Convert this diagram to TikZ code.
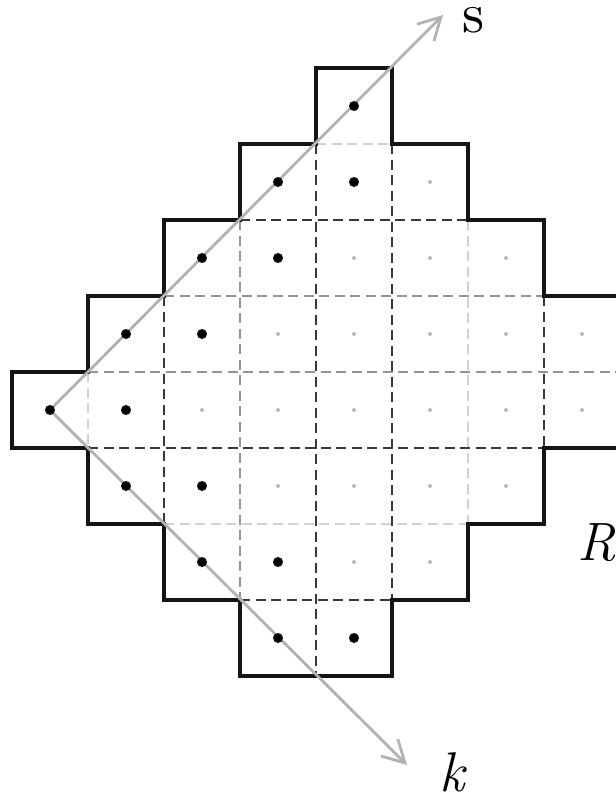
\documentclass[tikz,border=0pt]{standalone}
\usepackage{fontspec}
\usetikzlibrary{arrows.meta}
\newcommand{\bigsz}[1]{\fontsize{#1}{#1}\selectfont}
\begin{document}
\begin{tikzpicture}[x=1pt,y=-1pt,
  outline/.style={line width=3.6pt, draw=black!92, line join=miter},
  dk/.style={draw=black!78, line width=1.3pt, dash pattern=on 10pt off 5.5pt},
  md/.style={draw=black!42, line width=1.3pt, dash pattern=on 10pt off 5.5pt},
  lt/.style={draw=black!18, line width=1.3pt, dash pattern=on 10pt off 5.5pt},
  bdot/.style={circle, fill=black, inner sep=0pt, minimum size=10pt},
  gdot/.style={circle, fill=black!28, inner sep=0pt, minimum size=4pt},
  axisline/.style={draw=black!30, line width=2.8pt, -{Straight Barb[length=22pt,width=24pt]}},
  lbl/.style={inner sep=0pt}
]
\useasboundingbox (0,0) rectangle (616,801);

% light dashed grid segments
\draw[lt] (88,372) -- (88,448);
\draw[lt] (468,220) -- (468,524);
\draw[lt] (316,144) -- (392,144);
\draw[lt] (164,524) -- (468,524);
% medium dashed grid segments
\draw[md] (164,296) -- (544,296);
\draw[md] (88,372) -- (618,372);
\draw[md] (240,220) -- (240,600);
% dark dashed grid segments
\draw[dk] (164,296) -- (164,524);
\draw[dk] (316,144) -- (316,676);
\draw[dk] (392,144) -- (392,600);
\draw[dk] (544,296) -- (544,448);
\draw[dk] (240,220) -- (468,220);
\draw[dk] (88,448) -- (544,448);
\draw[dk] (240,600) -- (392,600);

% outline of the region
\draw[outline] (316,68) -- (392,68) -- (392,144) -- (468,144) -- (468,220) -- (544,220)
  -- (544,296) -- (618,296) -- (618,448) -- (544,448) -- (544,524) -- (468,524)
  -- (468,600) -- (392,600) -- (392,676) -- (240,676) -- (240,600) -- (164,600)
  -- (164,524) -- (88,524) -- (88,448) -- (12,448) -- (12,372) -- (88,372)
  -- (88,296) -- (164,296) -- (164,220) -- (240,220) -- (240,144) -- (316,144) -- cycle;

% axes
\coordinate (o) at (50,410);
\coordinate (sT) at (443,15);
\coordinate (kT) at (407,765);
\draw[axisline] (o) -- (sT);
\draw[axisline] (o) -- (kT);

% black dots
\foreach \c/\r in {4/0,3/1,4/1,2/2,3/2,1/3,2/3,0/4,1/4,1/5,2/5,2/6,3/6,3/7,4/7}
  \node[bdot] (b\c\r) at ({50+76*\c},{106+76*\r}) {};
% gray dots
\foreach \c/\r in {5/1,4/2,5/2,6/2,3/3,4/3,5/3,6/3,7/3,2/4,3/4,4/4,5/4,6/4,7/4,3/5,4/5,5/5,6/5,4/6,5/6}
  \node[gdot] (g\c\r) at ({50+76*\c},{106+76*\r}) {};

% labels
\node[lbl, scale=5.6] (s) at (474,20) {s};
\node[lbl] (k) at (452,772) {\bigsz{56}\itshape k};
\node[lbl] (R) at (597,543) {\bigsz{54}\itshape R};
\end{tikzpicture}
\end{document}
